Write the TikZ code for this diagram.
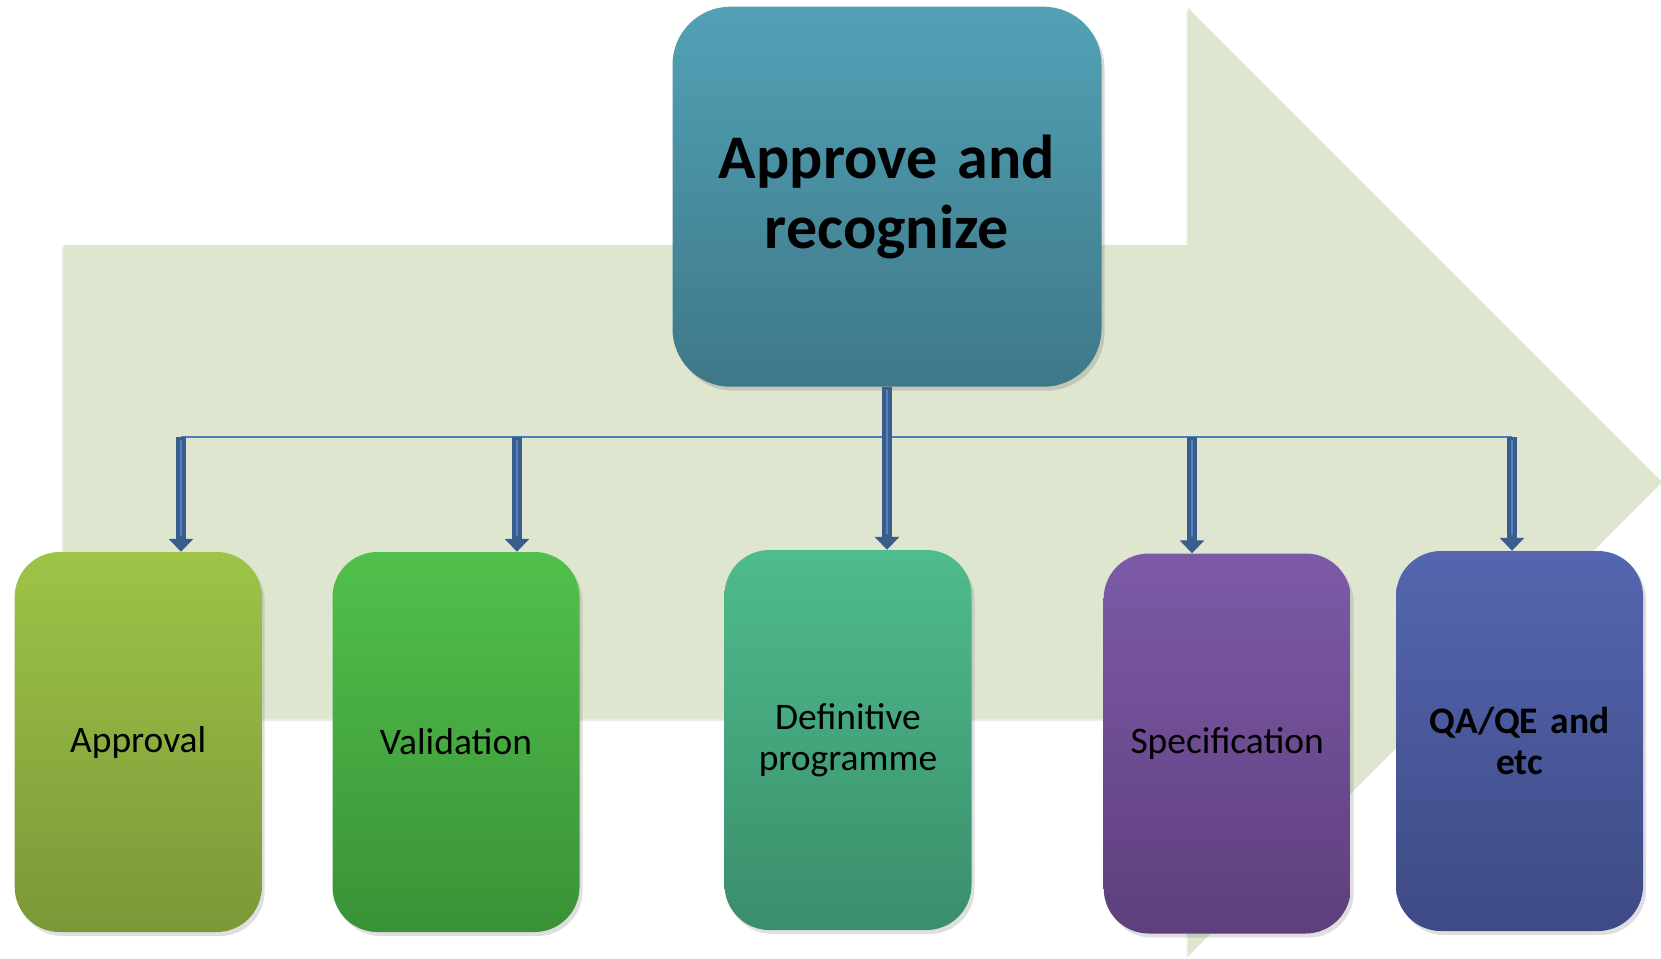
\documentclass[tikz,border=0pt]{standalone}
\usepackage{fontspec}
\setmainfont{Carlito}[WordSpace=0.85]
\usetikzlibrary{arrows.meta,shadows}
\definecolor{arrowbg}{HTML}{DEE6D0}
\definecolor{arrowdark}{HTML}{3A5E8C}
\definecolor{arrowlight}{HTML}{5483BF}
\definecolor{busblue}{HTML}{4A7EBB}
\definecolor{topA}{HTML}{52A1B6}\definecolor{topB}{HTML}{3E7888}
\definecolor{apA}{HTML}{9DC447}\definecolor{apB}{HTML}{7B9838}
\definecolor{vaA}{HTML}{51C04B}\definecolor{vaB}{HTML}{3A9237}
\definecolor{deA}{HTML}{4EBC8D}\definecolor{deB}{HTML}{3A8E6B}
\definecolor{spA}{HTML}{7C5AA7}\definecolor{spB}{HTML}{5E3F7D}
\definecolor{qaA}{HTML}{5566B0}\definecolor{qaB}{HTML}{3E4A85}
\begin{document}
\begin{tikzpicture}[x=1pt,y=-1pt,
  box/.style={rounded corners=45pt, minimum width=247pt, minimum height=380pt,
    inner sep=0pt, align=center, text width=240pt,
    font=\fontsize{37.5}{41}\selectfont,
    drop shadow={opacity=0.25, shadow xshift=3pt, shadow yshift=-4pt}},
  topbox/.style={rounded corners=58pt, minimum width=429pt, minimum height=380pt,
    inner sep=0pt, align=center, text width=420pt,
    font=\fontsize{62}{70}\selectfont\bfseries,
    top color=topA, bottom color=topB,
    drop shadow={opacity=0.3, shadow xshift=3pt, shadow yshift=-4pt}},
  bigarrow/.style={draw=arrowdark, line width=10.5pt, -{Triangle[width=24pt,length=13pt]},
    postaction={draw=arrowlight, line width=1.2pt, -, shorten >=16pt, shorten <=3pt}},
  bus/.style={draw=busblue, line width=2.5pt}
]
\useasboundingbox (0,0) rectangle (1661,958);
\fill[white] (0,0) rectangle (1661,958);
% background arrow
\fill[arrowbg, drop shadow={opacity=0.15, shadow xshift=-1.5pt, shadow yshift=-2pt}]
  (63.5,245) -- (1188,245) -- (1188,8) -- (1662,482) -- (1188,956)
  -- (1188,719) -- (63.5,719) -- cycle;

% nodes
\node[topbox] (top) at (887,196.7) {Approve and\\recognize};
\node[box, top color=apA, bottom color=apB] (approval) at (138.2,742) {Approval};
\node[box, top color=vaA, bottom color=vaB] (validation) at (456,742) {Validation};
\node[box, top color=deA, bottom color=deB] (definitive) at (848,740) {Definitive\\programme};
\node[box, top color=spA, bottom color=spB] (spec) at (1227.2,743.5) {Specification};
\node[box, top color=qaA, bottom color=qaB, font=\fontsize{37.5}{41}\selectfont\bfseries] (qa) at (1519.5,741) {QA/QE and\\etc};

% bus line
\coordinate (b1) at (181,437);
\coordinate (b2) at (517,437);
\coordinate (b4) at (1192,437);
\coordinate (b5) at (1512,437);
\draw[bus] (b1) -- (b5);

% arrows
\draw[bigarrow] (b1) -- (b1 |- approval.north);
\draw[bigarrow] (b2) -- (b2 |- validation.north);
\draw[bigarrow] (top.south) -- (top.south |- definitive.north);
\draw[bigarrow] (b4) -- (b4 |- spec.north);
\draw[bigarrow] (b5) -- (b5 |- qa.north);
\end{tikzpicture}
\end{document}
